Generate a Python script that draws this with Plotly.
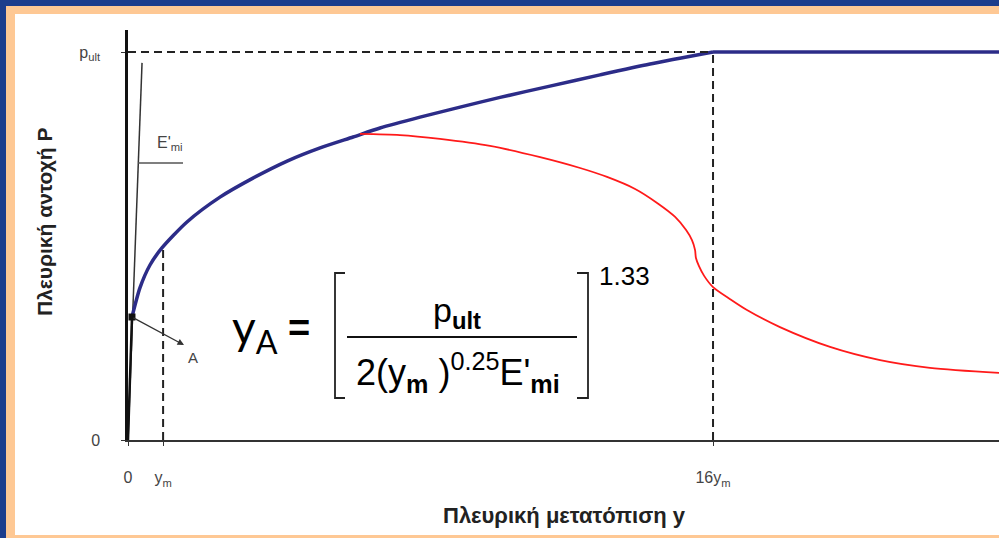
import plotly.graph_objects as go

# ---- data (displacement in arbitrary units, resistance normalised by p_ult) ----
rise_disp = [0.17, 0.51, 0.94, 1.45, 2.52, 3.93, 5.34, 6.80, 8.21, 9.62, 10.77,
             12.48, 14.19, 15.90, 18.03, 20.17, 22.31, 25.0]
rise_p = [0.317, 0.392, 0.451, 0.495, 0.562, 0.626, 0.675, 0.719, 0.753, 0.781,
          0.804, 0.832, 0.858, 0.883, 0.912, 0.941, 0.969, 1.0]

plateau_disp = [25.0, 37.22]
plateau_p = [1.0, 1.0]

red_disp = [9.91, 11.62, 13.33, 15.47, 17.61, 19.32, 20.47, 21.67, 22.61, 23.38,
            23.85, 24.10, 24.23, 24.27, 24.40, 24.62, 25.0, 25.73, 26.45, 27.86,
            30.0, 32.14, 34.27, 37.22]
red_p = [0.789, 0.786, 0.776, 0.758, 0.729, 0.701, 0.678, 0.647, 0.611, 0.575,
         0.541, 0.515, 0.490, 0.469, 0.448, 0.423, 0.394, 0.363, 0.335, 0.291,
         0.240, 0.206, 0.186, 0.173]

point_A = (0.17, 0.317)
y_m = 1.5
y_16m = 25.0
p_ult = 1.0
p_at_ym = 0.495
emi_line_disp = [0.0, 0.60]
emi_line_p = [0.0, 0.972]

x_tickvals = [0, y_m, y_16m]
x_ticktext = ["0", "y<sub>m</sub>", "16y<sub>m</sub>"]
y_tickvals = [0, p_ult]
y_ticktext = ["0", "p<sub>ult</sub>"]

X_MAX = 37.22
Y_MAX = 1.0567

W, H = 999, 538
ML, MR, MT, MB = 128, 0, 30, 98
PW, PH = W - ML - MR, H - MT - MB


def X(px):
    return (px - ML) / PW * X_MAX


def Y(py):
    return (H - MB - py) / PH * Y_MAX


def XP(px):
    return (px - ML) / PW


def YP(py):
    return (H - MB - py) / PH


FONT = "Liberation Sans, Arial, sans-serif"
DASH = "8px,5px"
BLUE = "#2C2C88"

fig = go.Figure()

# initial stiffness tangent E'mi
fig.add_trace(go.Scatter(x=emi_line_disp, y=emi_line_p, mode="lines",
                         line=dict(color="#333333", width=1.5), hoverinfo="skip"))
# linear part from origin to A
fig.add_trace(go.Scatter(x=[0, point_A[0]], y=[0, point_A[1]], mode="lines",
                         line=dict(color="#111111", width=2.5), hoverinfo="skip"))
# p-y curve: hardening part and plateau at p_ult
fig.add_trace(go.Scatter(x=rise_disp, y=rise_p, mode="lines",
                         line=dict(color=BLUE, width=3.5, shape="spline", smoothing=0.7),
                         hoverinfo="skip"))
fig.add_trace(go.Scatter(x=plateau_disp, y=plateau_p, mode="lines",
                         line=dict(color=BLUE, width=3.5), hoverinfo="skip"))
# softening branch
fig.add_trace(go.Scatter(x=red_disp, y=red_p, mode="lines",
                         line=dict(color="#FF1A1A", width=1.8, shape="spline", smoothing=0.8),
                         hoverinfo="skip"))
# point A
fig.add_trace(go.Scatter(x=[point_A[0]], y=[point_A[1]], mode="markers",
                         marker=dict(symbol="square", size=7, color="#111111"),
                         hoverinfo="skip"))

shapes = [
    # frame: peach band and white sheet
    dict(type="rect", xref="paper", yref="paper", layer="below",
         x0=XP(6), x1=XP(1005), y0=YP(6), y1=YP(545),
         fillcolor="#FEC894", line=dict(width=0)),
    dict(type="rect", xref="paper", yref="paper", layer="below",
         x0=XP(15), x1=XP(1005), y0=YP(14), y1=YP(535),
         fillcolor="#FFFFFF", line=dict(width=0)),
    # reference dashed lines
    dict(type="line", xref="x", yref="y", x0=0, x1=y_16m, y0=p_ult, y1=p_ult,
         line=dict(color="#222222", width=2, dash=DASH)),
    dict(type="line", xref="x", yref="y", x0=y_16m, x1=y_16m, y0=0, y1=p_ult,
         line=dict(color="#222222", width=2, dash=DASH)),
    dict(type="line", xref="x", yref="y", x0=y_m, x1=y_m, y0=0, y1=p_at_ym,
         line=dict(color="#222222", width=2, dash=DASH)),
    # slope marker for E'mi
    dict(type="line", xref="x", yref="y", x0=X(138), x1=X(183), y0=Y(163), y1=Y(163),
         line=dict(color="#555555", width=1.5)),
    # brackets of the formula
    dict(type="path", xref="x", yref="y",
         path=f"M {X(345)} {Y(273)} L {X(335)} {Y(273)} L {X(335)} {Y(398)} L {X(345)} {Y(398)}",
         line=dict(color="#222222", width=1.8)),
    dict(type="path", xref="x", yref="y",
         path=f"M {X(577)} {Y(273)} L {X(588)} {Y(273)} L {X(588)} {Y(398)} L {X(577)} {Y(398)}",
         line=dict(color="#222222", width=1.8)),
    # fraction bar
    dict(type="line", xref="x", yref="y", x0=X(347), x1=X(577), y0=Y(337), y1=Y(337),
         line=dict(color="#111111", width=2)),
]

annotations = [
    # arrow to A
    dict(x=X(184), y=Y(345), ax=point_A[0], ay=point_A[1], xref="x", yref="y",
         axref="x", ayref="y", showarrow=True, arrowhead=2, arrowsize=1,
         arrowwidth=1.3, arrowcolor="#333333", text=""),
    dict(x=X(193), y=Y(357), xref="x", yref="y", text="A", showarrow=False,
         font=dict(family=FONT, size=15, color="#444444")),
    dict(x=X(170), y=Y(143), xref="x", yref="y", text="E'<sub>mi</sub>", showarrow=False,
         font=dict(family=FONT, size=16, color="#444444")),
    # formula
    dict(x=X(230), y=Y(330), xref="x", yref="y", xanchor="left", yanchor="middle",
         text="y<sub>A</sub>", showarrow=False,
         font=dict(family="Lato, " + FONT, size=46, color="#000000")),
    dict(x=X(299), y=Y(328), xref="x", yref="y", text="<b>=</b>", showarrow=False,
         font=dict(family=FONT, size=38, color="#000000")),
    dict(x=X(457), y=Y(312), xref="x", yref="y", text="p<sub><b>ult</b></sub>",
         showarrow=False, font=dict(family=FONT, size=34, color="#000000")),
    dict(x=X(458), y=Y(372), xref="x", yref="y",
         text="2(y<sub><b>m</b></sub> )<sup>0.25</sup>E'<sub><b>mi</b></sub>",
         showarrow=False, font=dict(family=FONT, size=36, color="#000000")),
    dict(x=X(597), y=Y(276), xref="x", yref="y", xanchor="left", text="1.33",
         showarrow=False, font=dict(family=FONT, size=26, color="#000000")),
    # axis titles
    dict(x=XP(564), y=YP(515), xref="paper", yref="paper",
         xanchor="center", yanchor="middle",
         text="<b>Πλευρική μετατόπιση y</b>", showarrow=False,
         font=dict(family=FONT, size=22, color="#222222")),
    dict(x=XP(44), y=YP(222), xref="paper", yref="paper", textangle=-90,
         xanchor="center", yanchor="middle",
         text="<b>Πλευρική αντοχή P</b>", showarrow=False,
         font=dict(family=FONT, size=21, color="#222222")),
]

fig.update_layout(
    width=W, height=H,
    margin=dict(l=ML, r=MR, t=MT, b=MB, pad=0),
    paper_bgcolor="#1C3D8C",
    plot_bgcolor="rgba(0,0,0,0)",
    showlegend=False,
    shapes=shapes,
    annotations=annotations,
    xaxis=dict(range=[0, X_MAX], tickvals=x_tickvals, ticktext=x_ticktext,
               showgrid=False, zeroline=False, showline=True, linecolor="#333333",
               linewidth=2, ticks="outside", ticklen=4, tickcolor="#333333",
               tickfont=dict(family=FONT, size=16, color="#444444"),
               ticklabelstandoff=18, fixedrange=True),
    yaxis=dict(range=[0, Y_MAX], tickvals=y_tickvals, ticktext=y_ticktext,
               showgrid=False, zeroline=False, showline=True, linecolor="#111111",
               linewidth=2.5, ticks="outside", ticklen=4, tickcolor="#333333",
               tickfont=dict(family=FONT, size=16, color="#444444"),
               ticklabelstandoff=18, fixedrange=True),
)

fig.write_html("out.html")
